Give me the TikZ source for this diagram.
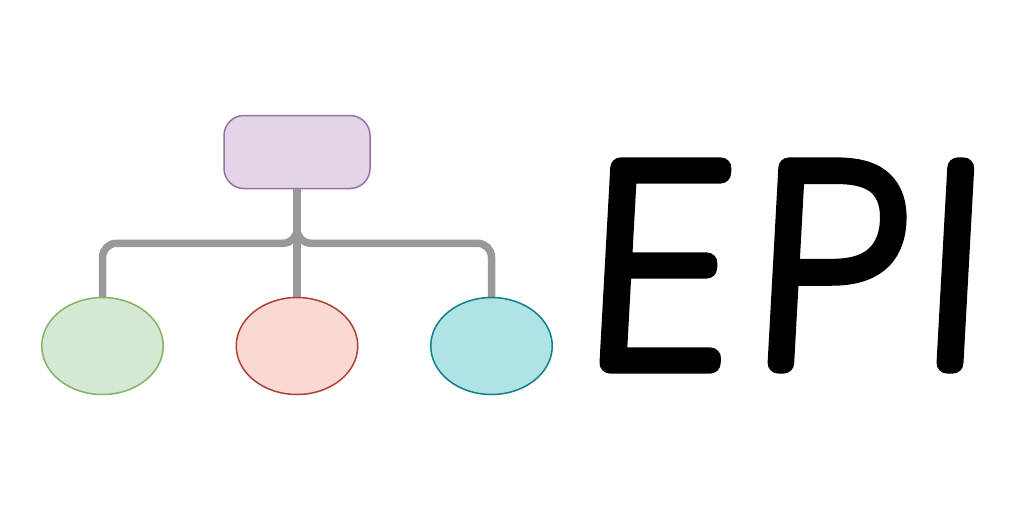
\documentclass[tikz,border=0pt]{standalone}
\usepackage{fontspec}
\newfontfamily\epifont[FakeBold=7.6,FakeSlant=0.055,FakeStretch=1.05]{Poppins Thin}
\newfontfamily\epifontp[FakeBold=7.6,FakeSlant=0.055,FakeStretch=0.985]{Poppins Thin}
\usetikzlibrary{calc,shapes.geometric}
\definecolor{boxfill}{HTML}{E1D5E7}
\definecolor{boxline}{HTML}{9673A6}
\definecolor{gfill}{HTML}{D5E8D4}
\definecolor{gline}{HTML}{82B366}
\definecolor{rfill}{HTML}{FAD9D5}
\definecolor{rline}{HTML}{AE4132}
\definecolor{tfill}{HTML}{B0E3E6}
\definecolor{tline}{HTML}{0E8088}
\definecolor{conn}{HTML}{999999}
\tikzset{x=1pt,y=-1pt,
  leaf/.style={ellipse,draw,line width=1.5pt,minimum width=121.5pt,minimum height=97pt,inner sep=0pt},
  root/.style={rectangle,rounded corners=20pt,draw=boxline,fill=boxfill,line width=1.5pt,minimum width=146pt,minimum height=73pt,inner sep=0pt},
  link/.style={draw=conn,line width=7.5pt,rounded corners=14pt},
  epi/.style={inner sep=0pt,line join=round,line cap=round}}
\begin{document}
\begin{tikzpicture}
\useasboundingbox (0,0) rectangle (1024,512);
\fill[white] (0,0) rectangle (1024,512);
\node[root] (r) at (297,152) {};
\draw[link] (r.south) -- ++(0,54) -| (102.5,298) coordinate (ta);
\draw[link] (r.south) -- ++(0,54) -| (491.5,298) coordinate (tc);
\draw[link] (r.south) -- (297,298) coordinate (tb);
\node[leaf,draw=gline,fill=gfill] (a) at (102.5,346) {};
\node[leaf,draw=rline,fill=rfill] (b) at (297,346) {};
\node[leaf,draw=tline,fill=tfill] (c) at (491.5,346) {};
\begin{scope}[line join=round,line cap=round]
\node[epi,font=\epifont\fontsize{277}{277}\selectfont] (e) at (655,265.5) {E};
\node[epi,font=\epifontp\fontsize{277}{277}\selectfont] (p) at (827,265.5) {P};
\node[epi,font=\epifont\fontsize{277}{277}\selectfont] (i) at (950,265.5) {I};
\end{scope}
\end{tikzpicture}
\end{document}
